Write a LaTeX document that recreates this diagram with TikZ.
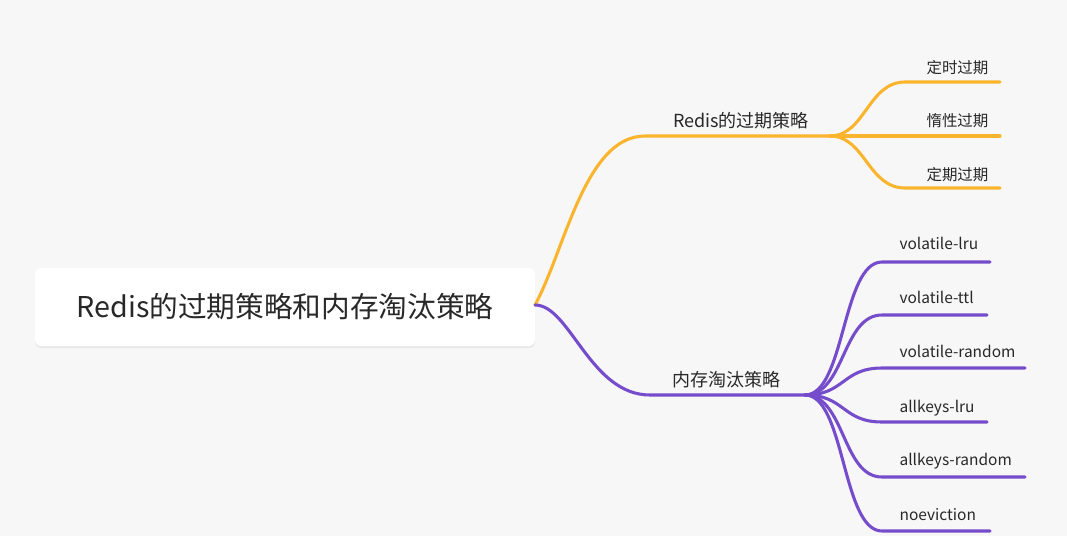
\documentclass[tikz,border=0pt]{standalone}
\usepackage{fontspec}
\setmainfont{Noto Sans CJK SC}
\usetikzlibrary{shadows,calc}
\definecolor{bg}{RGB}{247,247,247}
\definecolor{ylw}{RGB}{250,180,45}
\definecolor{prp}{RGB}{117,76,204}
\definecolor{txt}{RGB}{40,40,40}
\tikzset{
  rootbox/.style={draw=none,fill=white,rounded corners=4.5pt,minimum width=375pt,minimum height=58.5pt,
    drop shadow={opacity=0.12,shadow xshift=0pt,shadow yshift=-1.5pt},text=txt,font=\fontsize{21.5pt}{24pt}\selectfont},
  branchlbl/.style={text=txt,font=\fontsize{13.5pt}{16pt}\selectfont,inner sep=1pt},
  leaflbl/.style={text=txt,font=\fontsize{11.6pt}{14pt}\selectfont,inner sep=1pt},
  ylink/.style={draw=ylw,line width=2.3pt,line cap=round},
  plink/.style={draw=prp,line width=2.3pt,line cap=round},
}
\begin{document}
\begin{tikzpicture}[x=0.75pt,y=-0.75pt]
\fill[bg] (0,0) rectangle (1067,536);
\useasboundingbox (0,0) rectangle (1067,536);

% root
\node[rootbox] (root) at (285,307) {Redis的过期策略和内存淘汰策略};
\coordinate (r0) at (535,305);

% yellow branch
\coordinate (y1) at (645,136);
\coordinate (yj) at (830,136);
\node[branchlbl,anchor=base] (ylab) at (741,127) {Redis的过期策略};
\draw[ylink] (r0) .. controls (565,250) and (585,136) .. (y1) -- (yj);

\coordinate (ya) at (905,82);  \coordinate (yae) at (1000,82);
\coordinate (yb) at (905,136); \coordinate (ybe) at (1000,136);
\coordinate (yc) at (905,188); \coordinate (yce) at (1000,188);
\draw[ylink] (yj) .. controls (865,136) and (868,82) .. (ya) -- (yae);
\draw[ylink] (yj) -- (ybe);
\draw[ylink] (yj) .. controls (865,136) and (868,188) .. (yc) -- (yce);
\node[leaflbl,anchor=base east] (ta) at (990,73) {定时过期};
\node[leaflbl,anchor=base east] (tb) at (990,126) {惰性过期};
\node[leaflbl,anchor=base east] (tc) at (990,180) {定期过期};

% purple branch
\coordinate (p1) at (650,395);
\coordinate (pj) at (805,395);
\node[branchlbl,anchor=base] (plab) at (726,386) {内存淘汰策略};
\draw[plink] (r0) .. controls (570,305) and (590,395) .. (p1) -- (pj);

\foreach \n/\yy/\xe in {a/262/990,b/315/987,c/368/1025,d/422/987,e/477/1025,f/531/990}{
  \coordinate (ps\n) at (882,\yy);
  \coordinate (pe\n) at (\xe,\yy);
  \draw[plink] (pj) .. controls (845,395) and (842,\yy) .. (ps\n) -- (pe\n);
}
\node[leaflbl,anchor=base west] (la) at (898,249) {volatile-lru};
\node[leaflbl,anchor=base west] (lb) at (898,303) {volatile-ttl};
\node[leaflbl,anchor=base west] (lc) at (898,357) {volatile-random};
\node[leaflbl,anchor=base west] (ld) at (898,412) {allkeys-lru};
\node[leaflbl,anchor=base west] (le) at (898,465) {allkeys-random};
\node[leaflbl,anchor=base west] (lf) at (898,520) {noeviction};
\end{tikzpicture}
\end{document}
